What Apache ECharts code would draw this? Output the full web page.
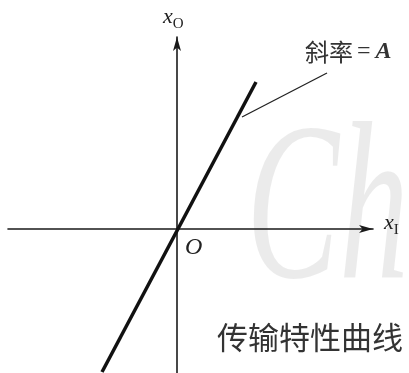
<!DOCTYPE html>
<html>
<head>
<meta charset="utf-8">
<script src="https://cdn.jsdelivr.net/npm/echarts@6/dist/echarts.min.js"></script>
<style>
  html, body { margin: 0; padding: 0; background: #fff; }
  #chart { width: 409px; height: 373px; }
</style>
</head>
<body>
<div id="chart"></div>
<script>
// 传输特性曲线：x_O = A * x_I
let curveData = [[-7.5, -14.3], [7.9, 14.7]]
// 斜率标注引线
let leaderData = [[6.5, 11.2], [15.0, 15.6]]
let captionText = '传输特性曲线'

let chart = echarts.init(document.getElementById('chart'))

chart.setOption({
  animation: false,
  grid: {
    left: 8,
    right: 36,
    top: 37,
    bottom: 0
  },
  xAxis: {
    type: 'value',
    min: -16.9,
    max: 19.6,
    axisLine: {
      onZero: true,
      symbol: ['none', 'arrow'],
      symbolSize: [6, 14],
      lineStyle: { color: '#1a1a1a', width: 1.6 }
    },
    axisTick: { show: false },
    axisLabel: { show: false },
    splitLine: { show: false }
  },
  yAxis: {
    type: 'value',
    min: -14.4,
    max: 19.2,
    axisLine: {
      onZero: true,
      symbol: ['none', 'arrow'],
      symbolSize: [6, 14],
      lineStyle: { color: '#1a1a1a', width: 1.6 }
    },
    axisTick: { show: false },
    axisLabel: { show: false },
    splitLine: { show: false }
  },
  series: [{
    type: 'line',
    data: curveData,
    symbol: 'none',
    lineStyle: { color: '#111', width: 3.5 },
    z: 3
  }, {
    type: 'line',
    data: leaderData,
    symbol: 'none',
    lineStyle: { color: '#222', width: 1.3 },
    z: 2
  }],
  graphic: [{
    // 水印
    type: 'text',
    x: 246,
    y: 330,
    scaleX: 0.62,
    silent: true,
    z: -1,
    style: {
      text: 'Ch',
      font: 'italic 225px "Liberation Serif", serif',
      fill: 'rgba(0,0,0,0.08)',
      align: 'left',
      verticalAlign: 'bottom'
    }
  }, {
    type: 'text',
    left: 163,
    top: 6,
    style: {
      text: '{x|x}{s|O}',
      rich: {
        x: { font: 'italic 22px "Liberation Serif", serif', fill: '#222' },
        s: { font: '15px "Liberation Serif", serif', fill: '#222', padding: [14, 0, 0, 0] }
      }
    }
  }, {
    type: 'text',
    left: 384,
    top: 212,
    style: {
      text: '{x|x}{s|I}',
      rich: {
        x: { font: 'italic 22px "Liberation Serif", serif', fill: '#222' },
        s: { font: '15px "Liberation Serif", serif', fill: '#222', padding: [14, 0, 0, 0] }
      }
    }
  }, {
    type: 'text',
    left: 185,
    top: 236,
    style: {
      text: 'O',
      font: 'italic 24px "Liberation Serif", serif',
      fill: '#222'
    }
  }, {
    type: 'text',
    left: 305,
    top: 40,
    style: {
      text: '{c|斜率}{e|=}{a|A}',
      rich: {
        c: { font: '24px "Noto Sans CJK SC", sans-serif', fill: '#333' },
        e: { font: '24px "Liberation Serif", serif', fill: '#333', padding: [0, 5, 0, 4] },
        a: { font: 'italic bold 24px "Liberation Serif", serif', fill: '#333' }
      }
    }
  }, {
    type: 'text',
    left: 217,
    top: 322,
    style: {
      text: captionText,
      font: '31px "Noto Sans CJK SC", sans-serif',
      fill: '#333'
    }
  }]
})
</script>
</body>
</html>
